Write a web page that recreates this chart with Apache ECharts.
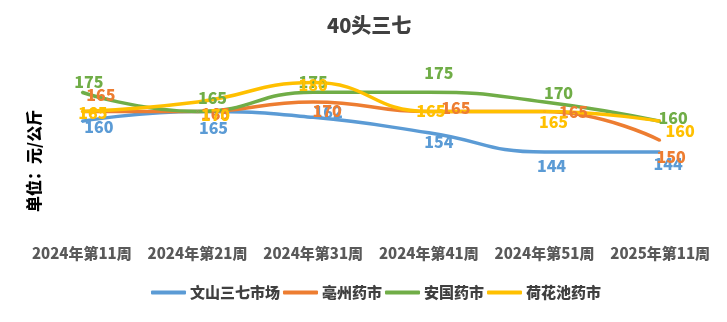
<!DOCTYPE html>
<html>
<head>
<meta charset="utf-8">
<script src="https://cdn.jsdelivr.net/npm/echarts@6/dist/echarts.min.js"></script>
<style>html,body{margin:0;padding:0;background:#fff}#c{width:727px;height:322px}</style>
</head>
<body>
<div id="c"></div>
<script>
var categories = ['2024年第11周','2024年第21周','2024年第31周','2024年第41周','2024年第51周','2025年第11周'];
var seriesNames = ['文山三七市场','亳州药市','安国药市','荷花池药市'];
var wenshan = [160,165,162,154,144,144];
var bozhou = [165,165,170,165,165,150];
var anguo = [175,165,175,175,170,160];
var hehuachi = [165,170,180,165,165,160];

var FONT = '"Noto Sans CJK SC", "Noto Sans", sans-serif';
var colors = ['#5B9BD5','#ED7D31','#70AD47','#FFC000'];
var labelOffsets = [
  [[17,6],[16,16],[15,-5],[10,9],[7,14],[8,12]],
  [[19,-17],[18,2],[14,9],[27,-4],[29,0],[11,16]],
  [[7,-10],[15,-14],[0,-10],[10,-19],[14,-9],[13,-3]],
  [[11,1],[18,13],[0,2],[2,-1],[9,10],[20,10]]
];
var allValues = [wenshan,bozhou,anguo,hehuachi];

function mkSeries(idx){
  return {
    name: seriesNames[idx],
    type: 'line',
    smooth: 0.5,
    symbol: 'circle',
    symbolSize: 2,
    lineStyle: {width: 3.5, color: colors[idx]},
    itemStyle: {color: colors[idx]},
    label: {show: true, position: 'inside', color: colors[idx], fontSize: 16, fontWeight: 900, fontFamily: FONT},
    emphasis: {disabled: true},
    data: allValues[idx].map(function(v,i){ return {value: v, label: {offset: labelOffsets[idx][i]}}; })
  };
}

var chart = echarts.init(document.getElementById('c'), null, {renderer: 'canvas'});
chart.setOption({
  animation: false,
  color: colors,
  title: {
    text: '40头三七', left: 322, top: 10,
    textStyle: {fontSize: 20, fontWeight: 900, color: '#404040', fontFamily: FONT}
  },
  legend: {
    bottom: 17, left: 146,
    itemWidth: 35, itemHeight: 4, itemGap: 3,
    icon: 'roundRect',
    textStyle: {fontSize: 15, fontWeight: 900, color: '#404040', fontFamily: FONT, padding: [0,0,0,-1]},
    data: seriesNames
  },
  graphic: [{
    type: 'text', rotation: Math.PI/2,
    style: {text: '单位：元/公斤', fontSize: 16, fontWeight: 900, fill: '#000', fontFamily: FONT},
    x: 26, y: 212
  }],
  grid: {left: 24, right: 9, top: 44, bottom: 85, containLabel: false},
  xAxis: {
    type: 'category', data: categories, boundaryGap: true,
    axisLine: {show: false}, axisTick: {show: false},
    axisLabel: {interval: 0, fontSize: 15, fontWeight: 900, color: '#595959', fontFamily: FONT, margin: 9}
  },
  yAxis: {
    type: 'value', min: 100, max: 200, interval: 20,
    axisLine: {show: false}, axisTick: {show: false}, axisLabel: {show: false}, splitLine: {show: false}
  },
  series: [mkSeries(0), mkSeries(1), mkSeries(2), mkSeries(3)]
});
</script>
</body>
</html>
